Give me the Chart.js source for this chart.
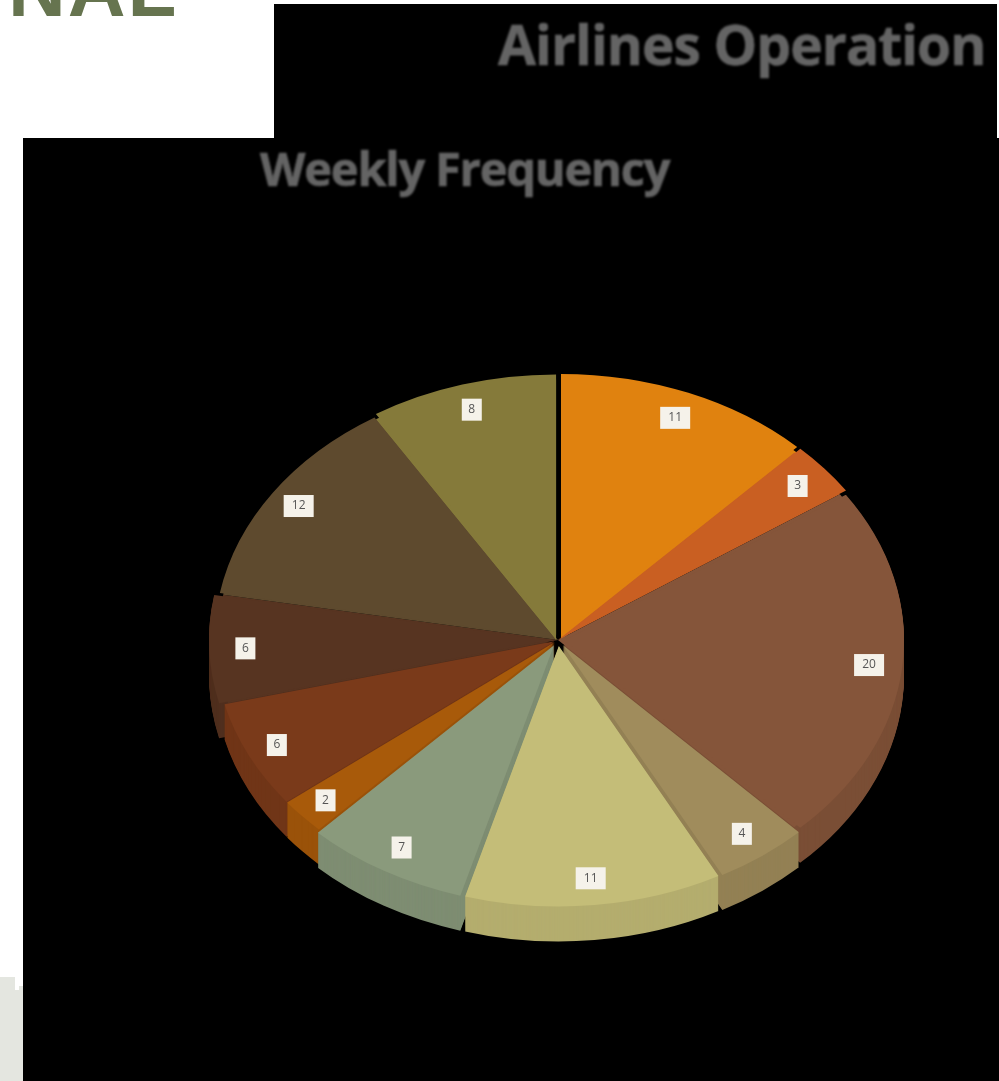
<!DOCTYPE html>
<html><head><meta charset="utf-8">
<style>
html,body{margin:0;padding:0;background:#fff;width:999px;height:1081px;overflow:hidden;position:relative}
.blk{position:absolute;background:#000}
.t{position:absolute;white-space:nowrap;font-family:"Open Sans";font-weight:700;color:#646464;line-height:1;filter:blur(.8px);-webkit-text-stroke:.6px #646464}
#wrap{position:absolute;left:23px;top:138px;width:976px;height:943px;background:#000}
#c{filter:blur(.6px)}
</style></head><body>
<div class="t" style="left:8px;top:-51px;font-family:'Liberation Sans';font-size:80px;color:#66744f;letter-spacing:2px;filter:none;-webkit-text-stroke:0">NAL</div>
<div style="position:absolute;left:0;top:977px;width:23px;height:104px;background:#e4e6e0;clip-path:polygon(0 0,15px 0,15px 13px,19px 13px,19px 9px,23px 9px,23px 104px,0 104px)"></div>
<div class="blk" style="left:274px;top:4px;width:723px;height:134px"></div>
<div class="t" id="t1" style="left:498px;top:16px;font-size:55px;letter-spacing:-.9px">Airlines Operation</div>
<div id="wrap"><canvas id="c" width="976" height="943"></canvas></div>
<div class="t" id="t2" style="left:260px;top:145px;font-size:47px;letter-spacing:-1.2px">Weekly Frequency</div>
<script src="https://cdn.jsdelivr.net/npm/chart.js@4/dist/chart.umd.js"></script>
<script>
const categories=["A","B","C","D","E","F","G","H","I","J","K"];
const frequency=[11,3,20,4,11,7,2,6,6,12,8];
const colors=["#e0820f","#c95f22","#85553a","#a08c5c","#c4bd78","#8a9a7c","#a85a0a","#7a3a1a","#573421","#5e4a2e","#857a3a"];
const explode=[8,8,6,8,8,8,4,4,9,4,7];
const squash=0.766, depth=35;
function shade(hex,f){const n=parseInt(hex.slice(1),16);return `rgb(${(n>>16)*f|0},${((n>>8)&255)*f|0},${(n&255)*f|0})`;}
const pie3d={id:'pie3d',
 beforeDatasetDraw(chart,args){
  const ctx=chart.ctx,m=chart.getDatasetMeta(args.index),el0=m.data[0];
  const cx=el0.x,cy=el0.y,last=m.data.length-1;
  ctx.save();
  ctx.translate(cx,cy);ctx.scale(1,squash);ctx.translate(-cx,-cy);
  const drawAt=(el,color,dx,dy)=>{
    const o=el.options,c=Object.create(o);
    if(color)c.backgroundColor=color;
    ctx.save();ctx.translate(dx,dy);
    el.options=c;el.draw(ctx);el.options=o;
    ctx.restore();
  };
  const midOf=el=>(el.startAngle+el.endAngle)/2;
  for(let d=depth;d>=1;d--){
    m.data.forEach((el,i)=>{
      const mid=midOf(el);
      if(Math.sin(mid)>-0.05) drawAt(el,shade(colors[i],0.92),Math.cos(mid)*explode[i],Math.sin(mid)*explode[i]+d/squash);
    });
  }
  // close the seams between the back slices, leaving only the gap at 12 o'clock
  m.data.forEach((el,i)=>{
    const mid=midOf(el);
    if(Math.sin(mid)<0.2){
      const keepGap=i===0||i===last;
      drawAt(el,null,keepGap?Math.cos(mid)*explode[i]:0,0);
    }
  });
  m.data.forEach((el,i)=>{
    const mid=midOf(el);
    drawAt(el,null,Math.cos(mid)*explode[i],Math.sin(mid)*explode[i]);
  });
  ctx.restore();
  return false;
 },
 afterDatasetsDraw(chart){
  const ctx=chart.ctx,m=chart.getDatasetMeta(0);
  ctx.save();
  ctx.font='12px "Open Sans"';ctx.textAlign='center';ctx.textBaseline='middle';
  m.data.forEach((el,i)=>{
    const mid=(el.startAngle+el.endAngle)/2,r=el.outerRadius*0.92;
    const x=el.x+Math.cos(mid)*r,y=el.y+Math.sin(mid)*r*squash;
    const t=String(frequency[i]),w=t.length>1?30:20;
    ctx.fillStyle='#f5f2ea';ctx.fillRect(x-w/2,y-11,w,22);
    ctx.fillStyle='#555';ctx.fillText(t,x,y);
  });
  ctx.restore();
 }};
new Chart(document.getElementById('c'),{type:'pie',
 data:{labels:categories,datasets:[{data:frequency,backgroundColor:colors,borderWidth:0}]},
 options:{responsive:false,animation:false,radius:340,rotation:0,
  layout:{padding:{left:94,right:0,top:61,bottom:0}},
  plugins:{legend:{display:false},title:{display:false},tooltip:{enabled:false}}},
 plugins:[pie3d]});
</script></body></html>
